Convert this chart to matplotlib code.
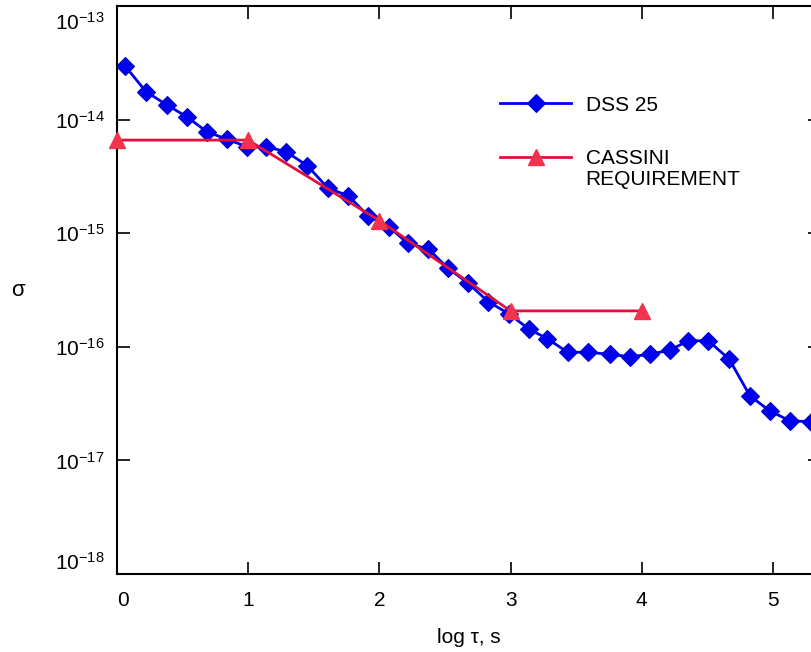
import numpy as np
import matplotlib
matplotlib.use("Agg")
import matplotlib.pyplot as plt
import matplotlib.transforms as mtransforms
from matplotlib.ticker import NullLocator, FixedLocator

plt.rcParams['font.family'] = ['Liberation Sans', 'DejaVu Sans']
plt.rcParams['mathtext.fontset'] = 'custom'
plt.rcParams['mathtext.rm'] = 'Liberation Sans'

# DSS 25 measured stability (log tau, sigma)
dss_x = [0.061, 0.221, 0.379, 0.531, 0.688, 0.841, 0.989, 1.136, 1.290, 1.450,
         1.610, 1.763, 1.915, 2.075, 2.216, 2.373, 2.523, 2.678, 2.830, 2.988,
         3.140, 3.280, 3.435, 3.592, 3.754, 3.910, 4.062, 4.215, 4.354, 4.507,
         4.667, 4.825, 4.977, 5.130, 5.287]
dss_y = [2.97e-14, 1.76e-14, 1.35e-14, 1.06e-14, 7.78e-15, 6.71e-15, 5.77e-15,
         5.77e-15, 5.21e-15, 3.93e-15, 2.48e-15, 2.14e-15, 1.42e-15, 1.13e-15,
         8.15e-16, 7.26e-16, 4.91e-16, 3.62e-16, 2.49e-16, 1.95e-16, 1.43e-16,
         1.18e-16, 8.95e-17, 8.95e-17, 8.59e-17, 8.18e-17, 8.59e-17, 9.37e-17,
         1.13e-16, 1.13e-16, 7.76e-17, 3.69e-17, 2.72e-17, 2.23e-17, 2.19e-17]

# Cassini requirement
cas_x = [0, 1, 2, 3, 4]
cas_y = [6.6e-15, 6.6e-15, 1.29e-15, 2.07e-16, 2.07e-16]

xticks = [0, 1, 2, 3, 4, 5]
yticks = [1e-18, 1e-17, 1e-16, 1e-15, 1e-14, 1e-13]
FS = 15

fig = plt.figure(figsize=(8.12, 6.52), dpi=100)
# right spine sits just past the picture edge, like the original
ax = fig.add_axes([117 / 812, 1 - 574 / 652, 703 / 812, 568 / 652])

ax.plot(dss_x, dss_y, color='#0000f0', lw=2, marker='D', ms=9.5,
        mfc='#0000f0', mec='#0000cc', mew=0.8, label='DSS 25', zorder=3)
ax.plot(cas_x, cas_y, color='#e0103c', lw=2, marker='^', ms=11,
        mfc='#f2334d', mec='#f2334d', label='CASSINI', zorder=4, clip_on=False)

ax.set_yscale('log')
ax.set_ylim(yticks[0], yticks[-1])
ax.set_xlim(0, 703 / 131.2)
ax.xaxis.set_major_locator(FixedLocator(xticks))
ax.yaxis.set_major_locator(FixedLocator(yticks))
ax.yaxis.set_minor_locator(NullLocator())

for s in ax.spines.values():
    s.set_linewidth(1.5)
ax.tick_params(which='major', direction='in', length=9, width=1.2,
               top=True, right=True, labelsize=FS)
ax.tick_params(axis='x', pad=12)
ax.tick_params(axis='y', pad=9)

ax.set_xlabel('log τ, s', fontsize=FS)
ax.xaxis.set_label_coords(0.5, -0.0953)
ax.set_ylabel('σ', fontsize=16, rotation=0, va='center', ha='center')
ax.yaxis.set_label_coords(-0.141, 0.5)

leg = ax.legend(loc='upper left', bbox_to_anchor=(0.545, 0.842), frameon=False,
                fontsize=FS, handlelength=3.4, handletextpad=0.7, labelspacing=1.64,
                borderpad=0, borderaxespad=0)

fig.canvas.draw()
renderer = fig.canvas.get_renderer()

# keep the end labels inside the frame, as in the original
for t in ax.yaxis.get_major_ticks():
    loc = t.get_loc()
    if np.isclose(loc, yticks[-1], rtol=1e-3, atol=0):
        t.label1.set_va('top')
        t.label1.set_transform(t.label1.get_transform() +
                               mtransforms.ScaledTranslation(0, -4 / 72, fig.dpi_scale_trans))
    elif np.isclose(loc, yticks[0], rtol=1e-3, atol=0):
        t.label1.set_va('bottom')
for t in ax.xaxis.get_major_ticks():
    if t.get_loc() == 0:
        t.label1.set_ha('left')

# second line of the requirement label, under "CASSINI"
bb = leg.get_texts()[1].get_window_extent(renderer)
ax.annotate('REQUIREMENT', xy=(bb.x0, bb.y0 - 2), xycoords='figure pixels',
            va='top', ha='left', fontsize=FS, annotation_clip=False)

fig.savefig('out.png', dpi=100)
